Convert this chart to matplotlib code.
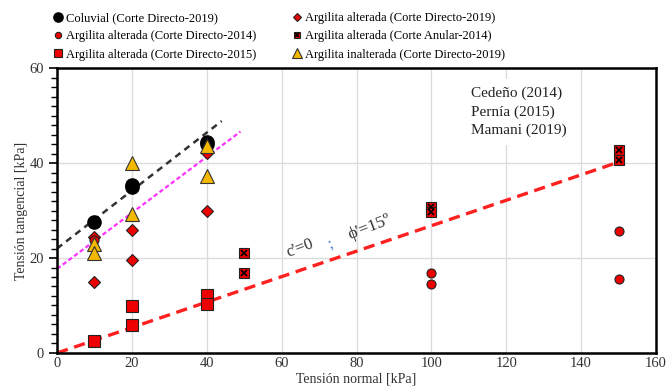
import numpy as np
import matplotlib
matplotlib.use('Agg')
import matplotlib.pyplot as plt

plt.rcParams['font.family'] = ['Liberation Serif', 'DejaVu Serif']

# Coluvial (Corte Directo-2019)
col_x = [10, 20, 20, 40, 40]
col_y = [27.6, 35.0, 35.4, 44.5, 44.0]
# Argilita alterada (Corte Directo-2019)
ad19_x = [10, 10, 20, 20, 40, 40]
ad19_y = [15.0, 24.5, 26.0, 19.5, 30.0, 42.2]
# Argilita alterada (Corte Directo-2014)
ad14_x = [10, 100, 100, 150, 150]
ad14_y = [23.8, 16.8, 14.6, 25.6, 15.5]
# Argilita alterada (Corte Anular-2014)
an14_x = [50, 50, 100, 100, 150, 150]
an14_y = [21.0, 16.9, 30.8, 29.6, 42.7, 40.6]
# Argilita alterada (Corte Directo-2015)
ad15_x = [10, 20, 20, 40, 40]
ad15_y = [2.5, 9.8, 5.8, 12.3, 10.4]
# Argilita inalterada (Corte Directo-2019)
in19_x = [10, 10, 20, 20, 40, 40]
in19_y = [23.0, 21.0, 39.9, 29.3, 43.6, 37.2]

# trend lines (intercept, slope, x range)
black_line = (22.0, 0.61, 0, 44)
magenta_line = (17.7, 0.59, 0, 49)
red_line = (0.0, np.tan(np.radians(15)), 0, 150)

fig = plt.figure(figsize=(6.67, 3.92), dpi=100)
ax = fig.add_axes([0.0855, 0.0995, 0.898, 0.727])

for b, m, x0, x1, c, ls, lw in [
        (*black_line, '#333333', (0, (2.6, 2.0)), 1.8),
        (*magenta_line, '#ff33ff', (0, (2.0, 1.2)), 1.6),
        (*red_line, '#ff2020', (0, (3.4, 2.0)), 2.4)]:
    xx = np.array([x0, x1])
    ax.plot(xx, b + m * xx, color=c, linestyle=ls, linewidth=lw, zorder=2)

h1, = ax.plot(col_x, col_y, 'o', color='black', markersize=9.5, zorder=4, linestyle='none')
h2, = ax.plot(ad19_x, ad19_y, 'D', color='#ee0000', markeredgecolor='#222222',
              markeredgewidth=0.8, markersize=6, zorder=3, linestyle='none')
h3, = ax.plot(ad14_x, ad14_y, 'o', color='#ee0000', markeredgecolor='#222222',
              markeredgewidth=0.8, markersize=6.5, zorder=3, linestyle='none')
h4a, = ax.plot(an14_x, an14_y, 's', color='#ee0000', markeredgecolor='#222222',
               markeredgewidth=0.8, markersize=6.5, zorder=3, linestyle='none')
h4b, = ax.plot(an14_x, an14_y, 'x', color='black', markeredgewidth=1.2,
               markersize=4, zorder=3, linestyle='none')
h5, = ax.plot(ad15_x, ad15_y, 's', color='#ee0000', markeredgecolor='#222222',
              markeredgewidth=0.8, markersize=8, zorder=3, linestyle='none')
h6, = ax.plot(in19_x, in19_y, '^', color='#f5b800', markeredgecolor='#333333',
              markeredgewidth=0.8, markersize=10.5, zorder=4, linestyle='none')

ax.set_xlim(0, 160)
ax.set_ylim(0, 60)
ax.set_xticks(np.arange(0, 161, 20))
ax.set_yticks([0, 20, 40, 60])
ax.set_yticks(np.arange(0, 61, 2), minor=True)
ax.grid(True, color='#dcdcdc', linewidth=1)
ax.set_axisbelow(True)
for s in ax.spines.values():
    s.set_linewidth(1.8)
ax.tick_params(axis='x', length=0, labelsize=10.5, labelcolor='#333333', pad=3)
ax.tick_params(axis='y', which='major', length=6, width=1.2, labelsize=10.5, labelcolor='#333333')
ax.tick_params(axis='y', which='minor', length=4, width=1)
ax.set_xlabel('Tensión normal [kPa]', fontsize=10, color='#333333', labelpad=2)
ax.set_ylabel('Tensión tangencial [kPa]', fontsize=10, color='#333333', labelpad=1)

ax.text(110.5, 56.0, 'Cedeño (2014)\nPernía (2015)\nMamani (2019)', fontsize=11,
        va='top', ha='left', linespacing=1.45, color='#222222',
        bbox=dict(facecolor='white', edgecolor='none', pad=6), zorder=5)

rot = 21
ax.text(65, 22.0, "c'=0", fontsize=12, rotation=rot, ha='center', va='center', color='#333333')
ax.text(73, 23.0, ';', fontsize=12, rotation=rot, ha='center', va='center', color='#4a7fd6')
ax.text(83.5, 26.5, "ϕ'=15º", fontsize=12.5, rotation=rot, ha='center', va='center', color='#333333')

labels = ['Coluvial (Corte Directo-2019)', 'Argilita alterada (Corte Directo-2014)',
          'Argilita alterada (Corte Directo-2015)', 'Argilita alterada (Corte Directo-2019)',
          'Argilita alterada (Corte Anular-2014)', 'Argilita inalterada (Corte Directo-2019)']
fig.legend([h1, h3, h5, h2, (h4a, h4b), h6], labels, ncol=2, loc='upper left',
           bbox_to_anchor=(0.072, 0.985), frameon=False, fontsize=9, markerscale=0.7,
           handlelength=0.6, handletextpad=0.3, columnspacing=3.0, labelspacing=0.5,
           borderaxespad=0.1)

fig.savefig('out.png', dpi=100)
